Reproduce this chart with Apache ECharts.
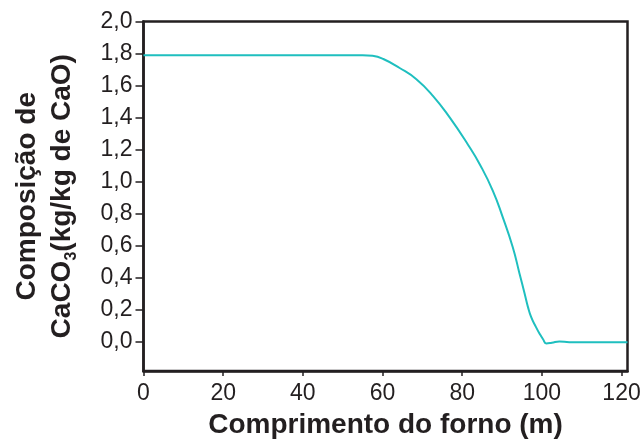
<!DOCTYPE html>
<html>
<head>
<meta charset="utf-8">
<script src="https://cdn.jsdelivr.net/npm/echarts@6/dist/echarts.min.js"></script>
<style>
html,body{margin:0;padding:0;background:#fff;}
#chart{width:642px;height:439px;}
</style>
</head>
<body>
<div id="chart"></div>
<script>
// Data
var xPos = [0, 20, 40, 55, 57.5, 60.2, 64.3, 68.5, 72.7, 76.9, 81.5, 84.4, 87.7, 90.2, 92.7, 94.4, 95.7, 96.5, 97.3, 98.5, 99.4, 100.3, 101.1, 102.5, 104.4, 106.9, 121.5];
var caco3 = [1.79, 1.79, 1.79, 1.79, 1.786, 1.766, 1.71, 1.64, 1.535, 1.40, 1.23, 1.11, 0.944, 0.778, 0.592, 0.427, 0.30, 0.22, 0.157, 0.095, 0.054, 0.018, -0.008, -0.004, 0.004, 0, 0];
var xTicks = [0, 20, 40, 60, 80, 100, 120];
var yTicks = [0, 0.2, 0.4, 0.6, 0.8, 1.0, 1.2, 1.4, 1.6, 1.8, 2.0];

var FONT = 'Liberation Sans, Arial, sans-serif';
var INK = '#231f20';

var chart = echarts.init(document.getElementById('chart'), null, {renderer: 'canvas'});
chart.setOption({
  animation: false,
  backgroundColor: '#fff',
  grid: {left: 143.5, right: 14.5, top: 21.5, bottom: 68, containLabel: false, outerBoundsMode: 'none',
    show: true, borderColor: INK, borderWidth: 2.5, backgroundColor: 'transparent'},
  xAxis: {
    type: 'value', min: 0, max: 121.5,
    name: 'Comprimento do forno (m)', nameLocation: 'middle', nameGap: 40,
    nameTextStyle: {fontFamily: FONT, fontWeight: 'bold', fontSize: 28, color: INK},
    axisLine: {show: true, onZero: false, lineStyle: {color: INK, width: 2.5}},
    axisTick: {show: true, length: 5, customValues: xTicks, lineStyle: {color: INK, width: 1.5}},
    axisLabel: {customValues: xTicks, fontFamily: FONT, fontSize: 23, color: INK, margin: 11},
    splitLine: {show: false}
  },
  yAxis: {
    type: 'value', min: -0.18, max: 2.0,
    name: '{b|Composição de}\n{b|CaCO}{s|3}{b|(kg/kg de CaO)}',
    nameLocation: 'middle', nameRotate: 90, nameGap: 64,
    nameTextStyle: {
      fontFamily: FONT, color: INK,
      rich: {
        b: {fontFamily: FONT, fontWeight: 'bold', fontSize: 28, lineHeight: 35, color: INK},
        s: {fontFamily: FONT, fontWeight: 'bold', fontSize: 16, lineHeight: 16, verticalAlign: 'bottom', color: INK}
      }
    },
    axisLine: {show: true, onZero: false, lineStyle: {color: INK, width: 2.5}},
    axisTick: {show: true, length: 8, customValues: yTicks, lineStyle: {color: INK, width: 1.5}},
    axisLabel: {customValues: yTicks, fontFamily: FONT, fontSize: 23, color: INK, margin: 11,
      formatter: function (v) { return v.toFixed(1).replace('.', ','); }},
    splitLine: {show: false}
  },
  series: [{
    type: 'line', data: xPos.map(function (x, i) { return [x, caco3[i]]; }),
    smooth: 0.5, showSymbol: false, symbol: 'none',
    lineStyle: {color: '#1fbfbf', width: 2}
  }]
});
</script>
</body>
</html>
